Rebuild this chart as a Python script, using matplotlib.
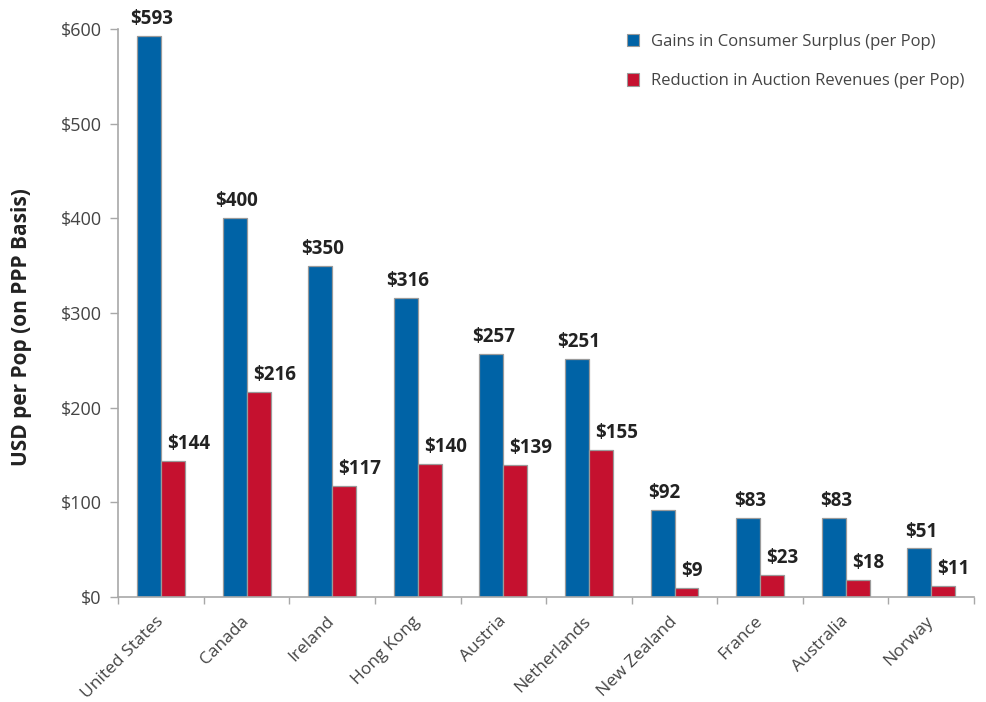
import matplotlib
matplotlib.use("Agg")
import matplotlib.pyplot as plt
import numpy as np
from matplotlib.patches import Patch

countries = ["United States", "Canada", "Ireland", "Hong Kong", "Austria",
             "Netherlands", "New Zealand", "France", "Australia", "Norway"]
gains = [593, 400, 350, 316, 257, 251, 92, 83, 83, 51]
reduction = [144, 216, 117, 140, 139, 155, 9, 23, 18, 11]
series_names = ["Gains in Consumer Surplus (per Pop)",
                "Reduction in Auction Revenues (per Pop)"]
yticks = [0, 100, 200, 300, 400, 500, 600]
ytick_labels = ["$0", "$100", "$200", "$300", "$400", "$500", "$600"]

BLUE = "#0063A6"
RED = "#C5112F"
EDGE = "#9a9a9a"
AX = "#a8a8a8"
TXT = "#444444"

plt.rcParams['font.family'] = ['Open Sans', 'DejaVu Sans']

fig = plt.figure(figsize=(9.87, 7.02), dpi=100)
ax = fig.add_axes([118.3/987, 1-596.7/702, (974-118.3)/987, 567.4/702])

x = np.arange(len(countries))
w = 0.28
ax.bar(x - w/2, gains, w, color=BLUE, edgecolor=EDGE, linewidth=0.9, zorder=2)
ax.bar(x + w/2, reduction, w, color=RED, edgecolor=EDGE, linewidth=0.9, zorder=2)

for xi, v in zip(x, gains):
    ax.annotate(f"${v}", (xi - w/2, v), xytext=(1.5, 8.6), textcoords="offset points",
                ha="center", va="baseline", fontsize=13.5, fontweight="bold",
                color="#222222", annotation_clip=False)
for xi, v in zip(x, reduction):
    ax.annotate(f"${v}", (xi, v), xytext=(4.5, 8.6), textcoords="offset points",
                ha="left", va="baseline", fontsize=13.5, fontweight="bold",
                color="#222222", annotation_clip=False)

ax.set_xlim(-0.5, len(countries) - 0.5)
ax.set_ylim(0, 600)
ax.set_yticks(yticks)
ax.set_yticklabels(ytick_labels, fontsize=13, color=TXT)

ax.set_xticks(np.arange(len(countries) + 1) - 0.5)
ax.set_xticklabels([])
ax.set_xticks(x, minor=True)
ax.set_xticklabels(countries, minor=True, rotation=45, ha="right", va="center",
                   rotation_mode="anchor", fontsize=12.5, color=TXT)
ax.tick_params(axis="x", which="minor", length=0, pad=16)
ax.tick_params(axis="x", which="major", length=5, width=1, color=AX, direction="out")
ax.tick_params(axis="y", length=6, width=1, color=AX, direction="out", pad=6)

for s in ["top", "right"]:
    ax.spines[s].set_visible(False)
for s in ["left", "bottom"]:
    ax.spines[s].set_color(AX)
    ax.spines[s].set_linewidth(1.2)

fig.text(22/987, 1-327/702, "USD per Pop (on PPP Basis)", rotation=90, ha="center",
         va="center", fontsize=15, fontweight="bold", color="#222222")

handles = [Patch(facecolor=BLUE, edgecolor=EDGE, linewidth=0.8),
           Patch(facecolor=RED, edgecolor=EDGE, linewidth=0.8)]
fig.legend(handles, series_names, loc="upper left",
           bbox_to_anchor=(612/987, 1-19/702), frameon=False,
           prop={"size": 12},
           handlelength=0.75, handleheight=0.75, handletextpad=0.7,
           labelspacing=1.4, labelcolor=TXT)

fig.savefig("out.png", dpi=100)
